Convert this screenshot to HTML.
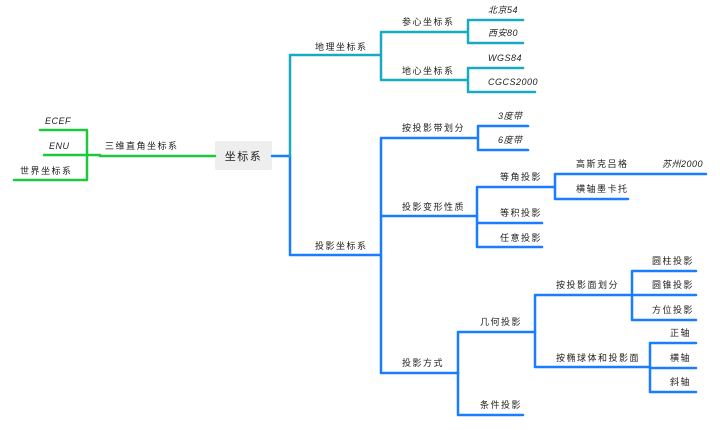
<!DOCTYPE html>
<html><head><meta charset="utf-8"><style>
html,body{margin:0;padding:0;background:#fff;}
svg{display:block;}
text{font-family:"Liberation Sans","Noto Sans CJK SC",sans-serif;font-size:9px;fill:#222;letter-spacing:1.5px;}
.i{font-style:italic;letter-spacing:0.5px;}
.g{stroke:#1ec83c;}
.t{stroke:#19a9c1;}
.b{stroke:#1a7dff;}
path{fill:none;stroke-width:2.5;stroke-linecap:round;stroke-linejoin:round;}
</style></head><body>
<svg width="720" height="430" viewBox="0 0 720 430" xmlns="http://www.w3.org/2000/svg">
<!-- root -->
<rect x="215" y="141" width="57" height="29" rx="2" fill="#eeeeee"/>
<text x="243.5" y="160" text-anchor="middle" style="font-size:11px">坐标系</text>

<!-- left green -->
<path class="g" d="M215 156 H100"/>
<path class="g" d="M87 130 V180 M40 130 H87 M44 155 H100 M14 180 H87"/>
<text x="105" y="149">三维直角坐标系</text>
<text x="45" y="124" class="i">ECEF</text>
<text x="49" y="149" class="i">ENU</text>
<text x="20" y="174">世界坐标系</text>

<!-- right trunk -->
<path class="b" d="M272 156 H290 V255 H380"/>
<path class="t" d="M290 156 V55 H380"/>
<text x="315" y="50">地理坐标系</text>
<text x="315" y="249">投影坐标系</text>

<!-- teal subtree -->
<path class="t" d="M381 32 V80 M381 32 H467 M381 80 H467"/>
<text x="402" y="25">参心坐标系</text>
<text x="402" y="74">地心坐标系</text>
<path class="t" d="M468 20 V43 M468 20 H523 M468 43 H523"/>
<text x="488" y="13" class="i">北京54</text>
<text x="488" y="36" class="i">西安80</text>
<path class="t" d="M468 68 V92 M468 68 H523 M468 92 H535"/>
<text x="488" y="61" class="i">WGS84</text>
<text x="488" y="85" class="i">CGCS2000</text>

<!-- blue subtree -->
<path class="b" d="M381 138 V373 M381 138 H477 M381 216 H477 M381 373 H458"/>
<text x="402" y="131">按投影带划分</text>
<text x="402" y="210">投影变形性质</text>
<text x="402" y="366">投影方式</text>

<path class="b" d="M478 126 V150 M478 126 H528 M478 150 H528"/>
<text x="498" y="119" class="i">3度带</text>
<text x="498" y="143" class="i">6度带</text>

<path class="b" d="M477 187 V247 M477 187 H554 M477 223 H542 M477 247 H542"/>
<text x="500" y="180">等角投影</text>
<text x="500" y="216">等积投影</text>
<text x="500" y="241">任意投影</text>

<path class="b" d="M555 174 V199 M555 174 H706 M555 199 H628"/>
<text x="576" y="167">高斯克吕格</text>
<text x="576" y="192">横轴墨卡托</text>
<text x="662" y="167" class="i">苏州2000</text>

<path class="b" d="M458 332 V415 M458 332 H535 M458 415 H523"/>
<text x="480" y="325">几何投影</text>
<text x="480" y="408">条件投影</text>

<path class="b" d="M535 295 V367 M535 295 H632 M535 367 H650"/>
<text x="556" y="288">按投影面划分</text>
<text x="556" y="361">按椭球体和投影面</text>

<path class="b" d="M632 271 V320 M632 271 H696 M632 295 H696 M632 320 H696"/>
<text x="652" y="264">圆柱投影</text>
<text x="652" y="288">圆锥投影</text>
<text x="652" y="313">方位投影</text>

<path class="b" d="M650 343 V392 M650 343 H696 M650 368 H696 M650 392 H696"/>
<text x="670" y="336">正轴</text>
<text x="670" y="361">横轴</text>
<text x="670" y="385">斜轴</text>
</svg>
</body></html>
